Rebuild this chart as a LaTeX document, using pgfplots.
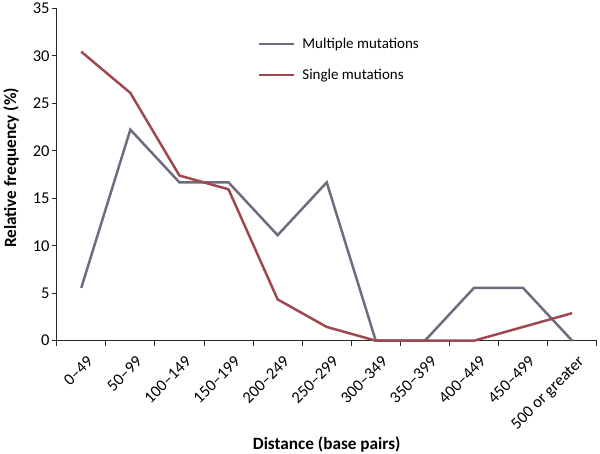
\documentclass[border=0pt]{standalone}
\usepackage{fontspec}
\setmainfont{Carlito}
\usepackage{pgfplots}
\pgfplotsset{compat=1.18}
\definecolor{multi}{RGB}{112,108,128}
\definecolor{single}{RGB}{158,72,80}
\definecolor{axc}{RGB}{40,40,40}
\begin{document}
\begin{tikzpicture}
\begin{axis}[
  at={(0,0)}, anchor=south west,
  scale only axis, width=540bp, height=332.4bp,
  xmin=-0.5, xmax=10.5, ymin=0, ymax=35,
  axis lines=left, axis line style={-, axc, line width=0.9bp},
  xtick={0,...,10},
  xticklabels={0--49,50--99,100--149,150--199,200--249,250--299,300--349,350--399,400--449,450--499,500 or greater},
  minor xtick={-0.5,0.5,...,10.5},
  major x tick style={draw=none},
  minor tick length=5bp, major tick length=5bp,
  tick align=outside,
  tick style={axc, line width=0.9bp},
  ytick={0,5,...,35},
  /pgf/number format/assume math mode=true,
  tick label style={font=\fontsize{16.5bp}{18bp}\selectfont, text=black},
  xticklabel style={rotate=45, anchor=north east, inner sep=1bp, xshift=-2bp, yshift=-9bp},
  yticklabel style={inner sep=2bp},
  xlabel={\textbf{Distance (base pairs)}},
  ylabel={\textbf{Relative frequency (\%)}},
  label style={font=\fontsize{17.2bp}{19bp}\selectfont},
  xlabel style={at={(axis description cs:0.5,0)}, anchor=center, yshift=-104bp},
  ylabel style={at={(axis description cs:-0.0846,0.52)}, anchor=center},
  clip=false,
  legend style={at={(axis description cs:0.372,0.917)}, anchor=north west, draw=none, fill=none,
    font=\fontsize{15bp}{17bp}\selectfont, row sep=15bp, inner sep=0pt},
  legend cell align=left,
  legend image code/.code={\draw[#1, line width=2.8bp] (0bp,0bp) -- (35bp,0bp); \path (40bp,0bp);},
]
\addplot[multi, line width=2.5bp] coordinates {
(0,5.56) (1,22.22) (2,16.67) (3,16.67) (4,11.11) (5,16.67) (6,0) (7,0) (8,5.56) (9,5.56) (10,0)};
\addlegendentry{Multiple mutations}
\addplot[single, line width=2.5bp] coordinates {
(0,30.43) (1,26.09) (2,17.39) (3,15.94) (4,4.35) (5,1.45) (6,0) (7,0) (8,0) (9,1.45) (10,2.90)};
\addlegendentry{Single mutations}
\end{axis}
\pgfresetboundingbox
\path (-56.7bp,-113.3bp) rectangle (543.3bp,340.7bp);
\end{tikzpicture}
\end{document}
